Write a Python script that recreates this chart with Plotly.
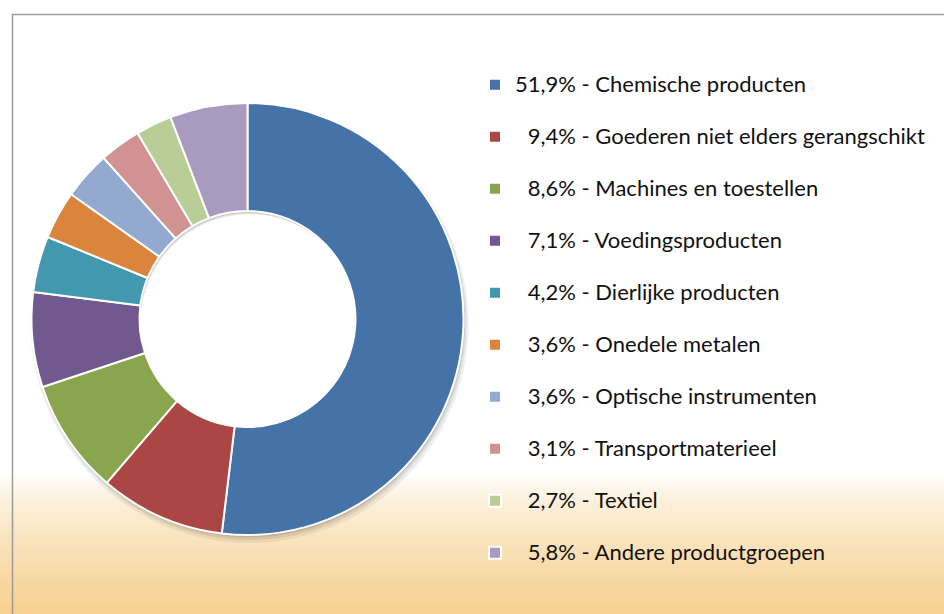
import plotly.graph_objects as go

categories = [
    "Chemische producten",
    "Goederen niet elders gerangschikt",
    "Machines en toestellen",
    "Voedingsproducten",
    "Dierlijke producten",
    "Onedele metalen",
    "Optische instrumenten",
    "Transportmaterieel",
    "Textiel",
    "Andere productgroepen",
]
shares = [51.9, 9.4, 8.6, 7.1, 4.2, 3.6, 3.6, 3.1, 2.7, 5.8]
share_labels = ["51,9%", "9,4%", "8,6%", "7,1%", "4,2%", "3,6%", "3,6%", "3,1%", "2,7%", "5,8%"]
colors = ["#4572A7", "#AA4643", "#89A54E", "#71588F", "#4198AF",
          "#DB843D", "#93A9CF", "#D19392", "#B9CD96", "#A99BBD"]

W, H = 944, 614

def pad(s):
    return s if len(s) >= 5 else "\u2007" + s

legend_labels = [f"<span style='font-size:22px'>{pad(p)} - {c}</span><br>\u00a0"
                 for p, c in zip(share_labels, categories)]

cx, cy, r = 247.5, 319.0, 216.0

def dom(cx, cy, r):
    return dict(x=[(cx - r) / W, (cx + r) / W],
                y=[(H - cy - r) / H, (H - cy + r) / H])

fig = go.Figure()
# soft shadow
for k, (dx, dy, dr, a) in enumerate([(2, 5, 3, 0.06), (1.5, 3.5, 1.5, 0.08), (1, 2, 0.5, 0.10)]):
    fig.add_trace(go.Pie(
        values=[1], labels=[f"shadow{k}"], showlegend=False, hole=0.5,
        domain=dom(cx + dx, cy + dy, r + dr), sort=False,
        marker=dict(colors=[f"rgba(0,0,0,{a})"], line=dict(width=0)),
        textinfo="none", hoverinfo="skip",
    ))

fig.add_trace(go.Pie(
    values=shares,
    labels=legend_labels,
    hole=0.5,
    sort=False,
    direction="clockwise",
    rotation=0,
    domain=dom(cx, cy, r),
    marker=dict(colors=colors, line=dict(color="white", width=2)),
    textinfo="none",
    hovertemplate="%{customdata}<extra></extra>",
    customdata=[f"{p} - {c}" for p, c in zip(share_labels, categories)],
))

# background gradient strips
shapes = []
top_px, n = 476, 60
for i in range(n):
    t = (i + 0.5) / n
    e = t ** 0.7
    rr = round(255 + (246 - 255) * e)
    gg = round(255 + (208 - 255) * e)
    bb = round(255 + (142 - 255) * e)
    y0 = top_px + (H - top_px) * i / n
    y1 = top_px + (H - top_px) * (i + 1) / n + 0.5
    shapes.append(dict(type="rect", xref="paper", yref="paper",
                       x0=0, x1=1, y0=(H - y1) / H, y1=(H - y0) / H,
                       fillcolor=f"rgb({rr},{gg},{bb})", line=dict(width=0),
                       layer="below"))
shapes.append(dict(type="rect", xref="paper", yref="paper",
                   x0=12.5 / W, x1=1.05, y0=-0.05, y1=(H - 14.5) / H,
                   line=dict(color="#9b9b9b", width=1.5), fillcolor="rgba(0,0,0,0)",
                   layer="above"))

fig.update_layout(
    width=W, height=H,
    margin=dict(l=0, r=0, t=0, b=0, autoexpand=False),
    paper_bgcolor="white",
    plot_bgcolor="white",
    shapes=shapes,
    font=dict(family="Lato, Carlito, Calibri, sans-serif", size=18.85, color="#111111"),
    legend=dict(
        x=475 / W, xanchor="left",
        y=(H - 66) / H, yanchor="top",
        valign="top",
        bgcolor="rgba(0,0,0,0)",
        font=dict(size=18.85),
        tracegroupgap=0,
        itemwidth=30,
    ),
    showlegend=True,
)

fig.write_html(
    "out.html",
    config={"displayModeBar": False},
    post_script="document.body.style.margin='0';document.body.style.overflow='hidden';",
)
